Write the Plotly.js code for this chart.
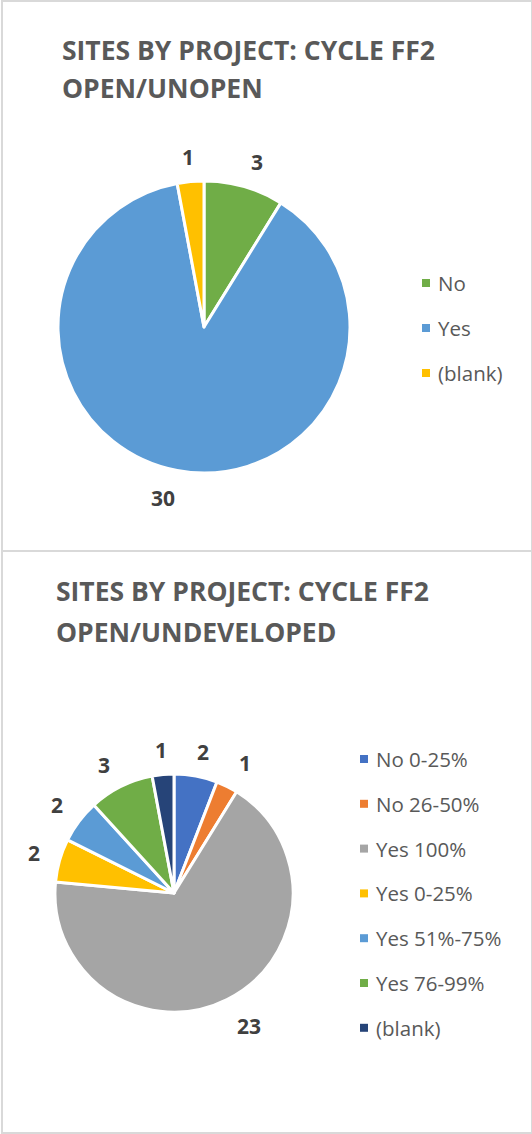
<!DOCTYPE html>
<html>
<head>
<meta charset="utf-8">
<script src="https://cdn.plot.ly/plotly-3.0.1.min.js"></script>
<style>
  html, body { margin: 0; padding: 0; background: #fff; }
  #wrap { position: relative; width: 532px; height: 1134px; }
  .panel { position: absolute; left: 1px; width: 528px; border: 2px solid #d9d9d9; box-sizing: content-box; }
  #p1 { top: 0px; height: 548px; }
  #p2 { top: 550px; height: 580px; }
</style>
</head>
<body>
<div id="wrap">
  <div id="p1" class="panel"></div>
  <div id="p2" class="panel"></div>
</div>
<script>
// ---- Data: chart 1 ----
const title1Lines = ["SITES BY PROJECT: CYCLE FF2", "OPEN/UNOPEN"];
const labels1 = ["No", "Yes", "(blank)"];
const values1 = [3, 30, 1];
const colors1 = ["#70AD47", "#5B9BD5", "#FFC000"];

// ---- Data: chart 2 ----
const title2Lines = ["SITES BY PROJECT: CYCLE FF2", "OPEN/UNDEVELOPED"];
const labels2 = ["No 0-25%", "No 26-50%", "Yes 100%", "Yes 0-25%", "Yes 51%-75%", "Yes 76-99%", "(blank)"];
const values2 = [2, 1, 23, 2, 2, 3, 1];
const colors2 = ["#4472C4", "#ED7D31", "#A5A5A5", "#FFC000", "#5B9BD5", "#70AD47", "#264478"];

const FONT = "Open Sans, DejaVu Sans, sans-serif";
const TXT = "#595959";

function build(el, W, H, cx, cy, r, titleLines, titleX, titleY, lineGap, labels, values, colors, legX, legY0, legStep, labOff, labAng) {
  const annotations = [];
  const shapes = [];
  titleLines.forEach((t, i) => {
    annotations.push({
      xref: "paper", yref: "paper", x: titleX / W, y: 1 - (titleY + i * lineGap) / H,
      xanchor: "left", yanchor: "middle", showarrow: false,
      text: "<b>" + t + "</b>", font: { family: FONT, size: 26.5, color: TXT }
    });
  });
  labels.forEach((lab, i) => {
    const yc = legY0 + i * legStep;
    shapes.push({
      type: "rect", xref: "paper", yref: "paper",
      x0: legX / W, x1: (legX + 8) / W, y0: 1 - (yc + 4) / H, y1: 1 - (yc - 4) / H,
      fillcolor: colors[i], line: { width: 0 }
    });
    annotations.push({
      xref: "paper", yref: "paper", x: (legX + 14) / W, y: 1 - yc / H,
      xanchor: "left", yanchor: "middle", showarrow: false,
      text: lab, font: { family: FONT, size: 20.5, color: TXT }
    });
  });
  // value labels outside each slice, near the slice's mid-angle (clockwise from 12 o'clock)
  const total = values.reduce((a, b) => a + b, 0);
  let cum = 0;
  values.forEach((v, i) => {
    const mid = (cum + v / 2) / total * 2 * Math.PI + labAng[i] * Math.PI / 180;
    cum += v;
    const d = r + labOff[i];
    const px = cx + d * Math.sin(mid);
    const py = cy - d * Math.cos(mid);
    annotations.push({
      xref: "paper", yref: "paper", x: px / W, y: 1 - py / H,
      xanchor: "center", yanchor: "middle", showarrow: false,
      text: "<b>" + v + "</b>", font: { family: FONT, size: 21, color: "#404040" }
    });
  });
  const trace = {
    type: "pie", labels: labels, values: values, sort: false, direction: "clockwise", rotation: 0,
    marker: { colors: colors, line: { color: "#ffffff", width: 3 } },
    textinfo: "none",
    domain: { x: [(cx - r) / W, (cx + r) / W], y: [1 - (cy + r) / H, 1 - (cy - r) / H] },
    hoverinfo: "label+value", showlegend: false
  };
  const layout = {
    width: W, height: H, margin: { l: 0, r: 0, t: 0, b: 0 },
    paper_bgcolor: "#ffffff", plot_bgcolor: "#ffffff",
    showlegend: false, annotations: annotations, shapes: shapes
  };
  Plotly.newPlot(el, [trace], layout, { displayModeBar: false, staticPlot: true });
}

// Panel 1: origin at page (3,2)
build("p1", 528, 548, 204 - 3, 327 - 2, 146, title1Lines, 60 - 3, 50 - 2, 38, labels1, values1, colors1, 422 - 3, 283 - 2, 45,
      [27, 30, 25], [2, 3, 0]);
// Panel 2: origin at page (3,552)
build("p2", 528, 580, 174 - 3, 893 - 552, 119, title2Lines, 54 - 3, 591 - 552, 41, labels2, values2, colors2, 360 - 3, 759 - 552, 44.8,
      [25, 29, 34, 27, 27, 27, 25], [1, 2, -3, 0, 0, -2, 0]);
</script>
</body>
</html>
